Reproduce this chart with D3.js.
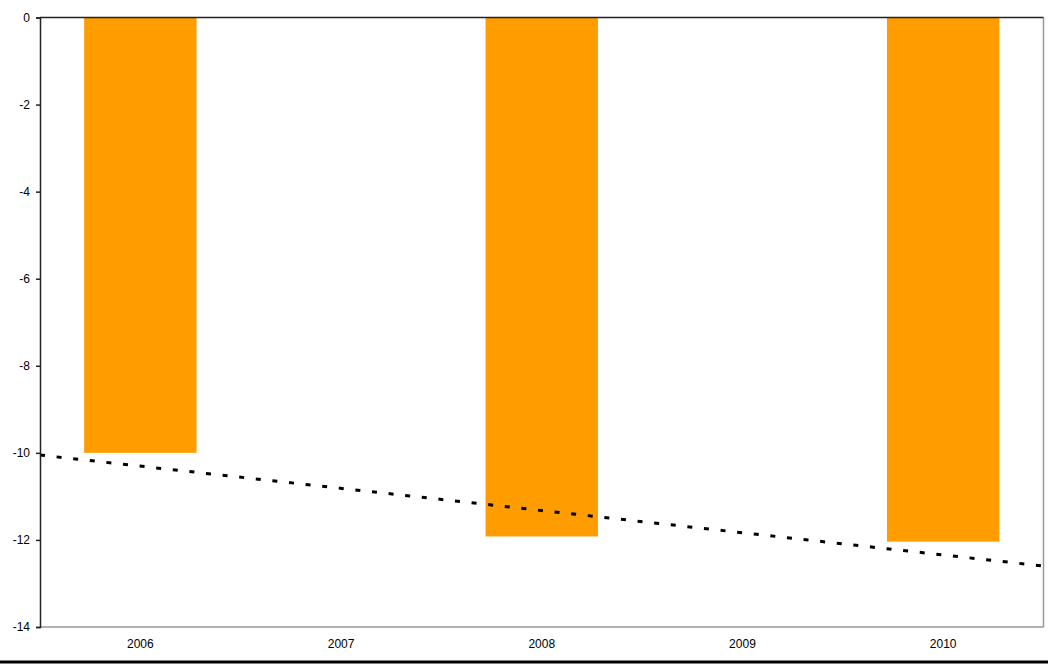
<!DOCTYPE html>
<html><head><meta charset="utf-8">
<script src="https://cdn.jsdelivr.net/npm/d3@7/dist/d3.min.js"></script>
<style>body{margin:0;background:#fff}svg{display:block}text{font-family:"Liberation Sans",Arial,sans-serif;font-size:12px;fill:#000}</style>
</head><body><svg id="c" width="1048" height="664"></svg>
<script>
const categories = ["2006","2007","2008","2009","2010"];
const values = [-10.0, null, -11.92, null, -12.04];
const yTicks = [0,-2,-4,-6,-8,-10,-12,-14];
const trendValues = [-10.05, -12.6]; // at left and right edges of plot

const svg = d3.select("#c");
const L = 40, R = 1043.5, T = 17.5, B = 627;
const x = d3.scaleBand().domain(categories).range([L, R]).paddingInner(0.44).paddingOuter(0.22);
const xb = d3.scaleBand().domain(categories).range([L, R]);
const y = d3.scaleLinear().domain([0, -14]).range([T, B]);

// bars
svg.append("g").selectAll("rect").data(categories.map((c,i)=>({c,v:values[i]})).filter(d=>d.v!==null))
  .enter().append("rect")
  .attr("x", d=>x(d.c)).attr("width", x.bandwidth())
  .attr("y", y(0)).attr("height", d=>y(d.v)-y(0))
  .attr("fill", "#ff9c00");

// frame
svg.append("line").attr("x1",L).attr("x2",R).attr("y1",B).attr("y2",B).attr("stroke","#999").attr("stroke-width",1.5);
svg.append("line").attr("x1",R).attr("x2",R).attr("y1",T).attr("y2",B).attr("stroke","#999").attr("stroke-width",1.5);
svg.append("line").attr("x1",L).attr("x2",R).attr("y1",T).attr("y2",T).attr("stroke","#222").attr("stroke-width",1.5);

// trend line
svg.append("path")
  .datum(trendValues.map((v,i)=>[i===0?L:R, v]))
  .attr("d", d3.line().x(d=>d[0]).y(d=>y(d[1])))
  .attr("fill","none").attr("stroke","#000").attr("stroke-width",3)
  .attr("stroke-dasharray","5,11.7");

// y axis
const ya = svg.append("g").attr("transform",`translate(${L},0)`)
  .call(d3.axisLeft(y).tickValues(yTicks).tickSize(4).tickPadding(6).tickFormat(d=>String(d)));
ya.select(".domain").attr("stroke","#222").attr("stroke-width",1.5);
ya.selectAll(".tick line").attr("stroke","#222").attr("stroke-width",1.5);
ya.selectAll("text").style("font-size","12px").style("font-family","Liberation Sans, Arial, sans-serif");

// x labels
const xa = svg.append("g").attr("transform",`translate(0,${B})`)
  .call(d3.axisBottom(xb).tickSize(0).tickPadding(12));
xa.select(".domain").remove();
xa.selectAll("text").style("font-size","12px").style("font-family","Liberation Sans, Arial, sans-serif");

// bottom black line
svg.append("line").attr("x1",0).attr("x2",1048).attr("y1",662).attr("y2",662).attr("stroke","#000").attr("stroke-width",3);
</script></body></html>
